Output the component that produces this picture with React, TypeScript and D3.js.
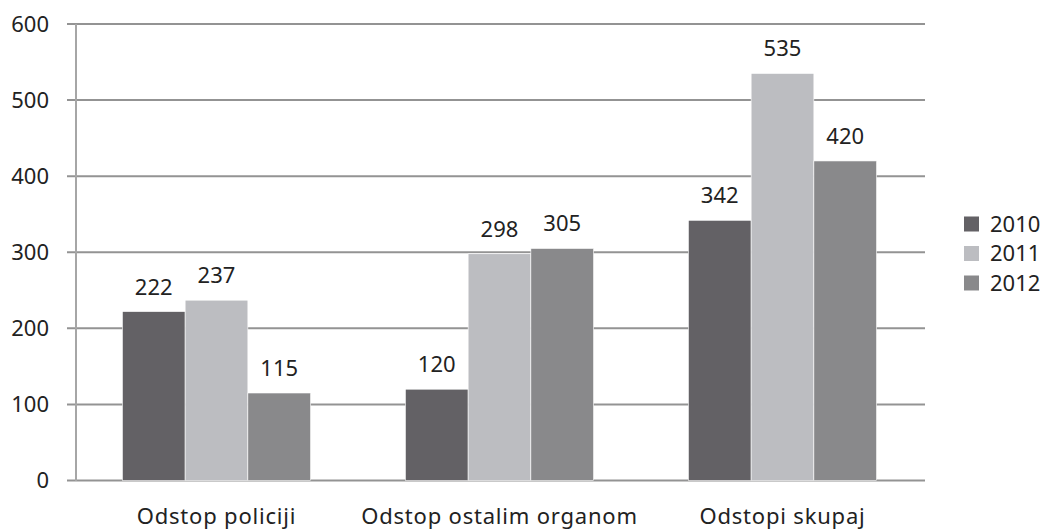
import React from "react";
import * as d3 from "d3";

const categories = ["Odstop policiji", "Odstop ostalim organom", "Odstopi skupaj"];
const seriesNames = ["2010", "2011", "2012"];
const values2010 = [222, 120, 342];
const values2011 = [237, 298, 535];
const values2012 = [115, 305, 420];
const yTicks = [0, 100, 200, 300, 400, 500, 600];
const colors = ["#636165", "#bcbdc1", "#89898b"];

const W = 1045;
const H = 532;
const FONT = "'Noto Sans', sans-serif";

export default function App() {
  const series = [values2010, values2011, values2012];
  const x0 = d3.scaleBand<string>().domain(categories).range([75, 924]).paddingInner(0.335).paddingOuter(0.1675);
  const x1 = d3.scaleBand<string>().domain(seriesNames).range([0, x0.bandwidth()]).padding(0);
  const y = d3.scaleLinear().domain([0, 600]).range([480.5, 24]);

  return (
    <svg width={W} height={H} style={{ position: "absolute", left: 0, top: 0, background: "#fff" }}>
      <rect x={0} y={0} width={W} height={H} fill="#fff" />
      {yTicks.map((t) => (
        <g key={t}>
          <line x1={67} x2={925} y1={y(t)} y2={y(t)} stroke="#939393" strokeWidth={2} />
          <text x={49} y={y(t)} dy="0.36em" textAnchor="end" fontFamily={FONT} fontSize={22} fill="#222">
            {t}
          </text>
        </g>
      ))}
      <line x1={76} x2={76} y1={24} y2={481} stroke="#a6a6a6" strokeWidth={2} />
      {categories.map((c, ci) => (
        <g key={c} transform={`translate(${x0(c)},0)`}>
          {seriesNames.map((s, si) => {
            const v = series[si][ci];
            const bx = x1(s)!;
            return (
              <g key={s}>
                <rect x={bx} y={y(v)} width={x1.bandwidth()} height={y(0) - y(v)} fill={colors[si]} stroke="#fff" strokeWidth={0.6} />
                <text x={bx + x1.bandwidth() / 2} y={y(v) - 17} textAnchor="middle" fontFamily={FONT} fontSize={22} fill="#222">
                  {v}
                </text>
              </g>
            );
          })}
          <text x={x0.bandwidth() / 2} y={524} textAnchor="middle" fontFamily={FONT} fontSize={22} letterSpacing={0.8} fill="#222">
            {c}
          </text>
        </g>
      ))}
      {seriesNames.map((s, i) => (
        <g key={s} transform={`translate(964,${224 + i * 29.5})`}>
          <rect x={0} y={-7.5} width={15} height={15} fill={colors[i]} />
          <text x={26} y={0} dy="0.36em" fontFamily={FONT} fontSize={22} fill="#222">
            {s}
          </text>
        </g>
      ))}
    </svg>
  );
}
